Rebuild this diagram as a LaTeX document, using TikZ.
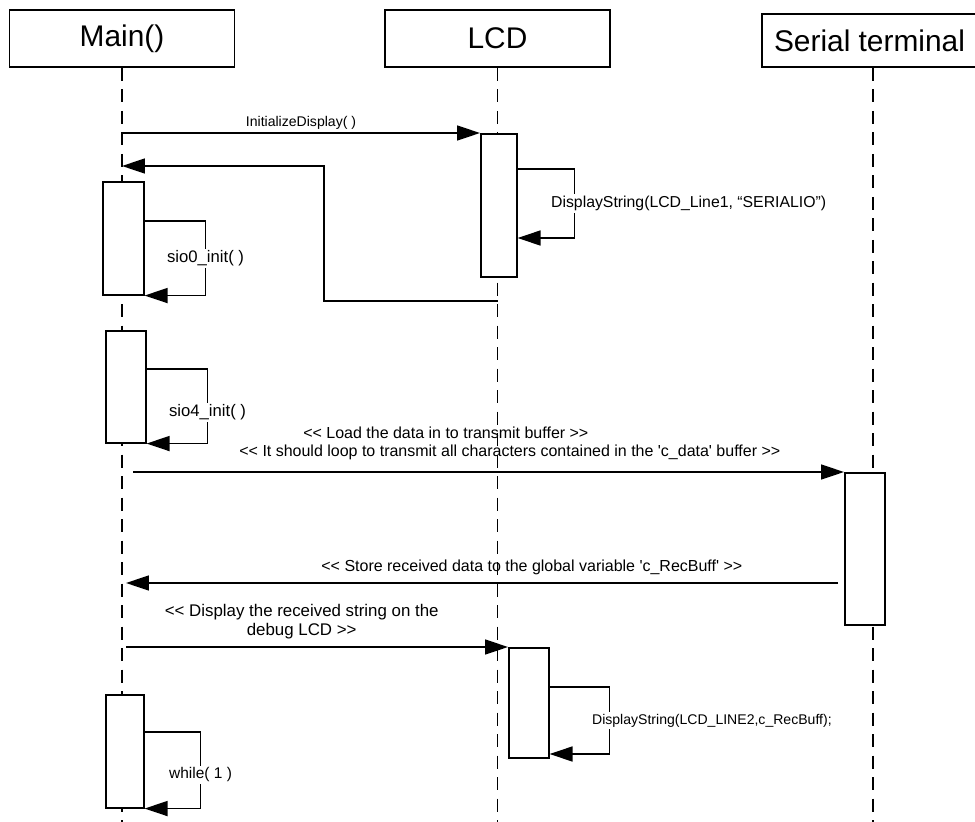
\documentclass[tikz,border=0pt]{standalone}
\usepackage{fontspec}
\setmainfont{Liberation Sans}[Ligatures=TeXOff]
\usetikzlibrary{arrows.meta,calc}
\tikzstyle{actor}=[rectangle,
                   draw,
                   line width=0.9pt,
                   fill=white,
                   minimum width=4.5cm,
                   minimum height=1.14cm,
                   font=\fontsize{17}{20}\selectfont]
\tikzstyle{lifeline}=[line width=0.85pt,dash pattern=on 0.26cm off 0.17cm]
\tikzstyle{activation}=[rectangle,
                        draw,
                        line width=0.9pt,
                        fill=white,
                        inner sep=0pt,
                        minimum width=0.8cm,
                        anchor=north west]
\tikzstyle{message}=[line width=0.9pt,-{Triangle[length=0.46cm,width=0.3cm]}]
\tikzstyle{callname}=[font=\fontsize{8}{10.8}\selectfont,inner sep=1pt]
\tikzstyle{longcall}=[callname,font=\fontsize{9.1}{10.8}\selectfont]
\tikzstyle{loopname}=[callname,fill=white,font=\fontsize{9}{10.8}\selectfont]

\begin{document}
\begin{tikzpicture}[x=0.02cm,y=-0.02cm]
    \useasboundingbox (0,0) rectangle (975,822);
    % objects and their lifelines
    \node[actor] (main) at (122,38.5) {Main()};
    \node[actor] (lcd) at (497.5,38.5) {LCD};
    \node[actor, minimum width=4.3cm, minimum height=1.06cm] (serial) at (869.5,40.5) {Serial terminal};
    \coordinate (mainEnd) at (122,822);
    \coordinate (lcdEnd) at (497.5,822);
    \coordinate (serialEnd) at (873,822);
    \draw[lifeline] (main.south) -- (mainEnd);
    \draw[lifeline] (lcd.south) -- (lcdEnd);
    \draw[lifeline] (serial.south -| serialEnd) -- (serialEnd);

    % activations
    \node[activation, minimum width=0.72cm, minimum height=2.86cm] (lcdA) at (480,133) {};
    \node[activation, minimum width=0.82cm, minimum height=2.26cm] (mainA) at (102,181) {};
    \node[activation, minimum height=2.24cm] (mainB) at (105,330) {};
    \node[activation, minimum height=3.04cm] (serA) at (844,472) {};
    \node[activation, minimum height=2.2cm] (lcdB) at (508,647) {};
    \node[activation, minimum width=0.76cm, minimum height=2.26cm] (mainC) at (105,694) {};

    % messages
    \coordinate (init) at (122,133);
    \coordinate (lcdRet) at (497.5,301);
    \coordinate (mainRet) at (122,166);
    \coordinate (load) at (133,472);
    \coordinate (storeFrom) at (838,583);
    \coordinate (store) at (126,583);
    \coordinate (show) at (126,647);

    \draw[message] (init) -- node[callname, yshift=0.2cm] {InitializeDisplay( )} (lcdA.north west);
    \draw[message] (lcdRet) -- ++(-173.5,0) |- (mainRet);
    \draw[message] ($(lcdA.north east)+(0,36)$) -- ++(57,0)
        |- node[loopname, pos=0.25, anchor=west, xshift=-0.52cm] {DisplayString(LCD\_Line1, “SERIALIO”)} ($(lcdA.north east)+(0,105)$);
    \draw[message] ($(mainA.north east)+(0,40)$) -- ++(61,0)
        |- node[loopname, pos=0.25, font=\fontsize{9.5}{10.8}\selectfont] {sio0\_init( )} (mainA.south east);
    \draw[message] ($(mainB.north east)+(0,39)$) -- ++(61,0)
        |- node[loopname, pos=0.29, font=\fontsize{9.5}{10.8}\selectfont] {sio4\_init( )} (mainB.south east);
    \draw[message] (load) -- node[longcall, pos=0.44, yshift=0.78cm] {<< Load the data in to transmit buffer >>}
        node[longcall, pos=0.53, yshift=0.4cm] {<< It should loop to transmit all characters contained in the 'c\_data' buffer >>} (serA.north west);
    \draw[message] (storeFrom) -- node[longcall, pos=0.43, yshift=0.32cm] {<< Store received data to the global variable 'c\_RecBuff' >>} (store);
    \draw[message] (show) -- node[longcall, align=center, pos=0.46, yshift=0.51cm, font=\fontsize{9.6}{10.8}\selectfont] {<< Display the received string on the\\debug LCD >>} (lcdB.north west);
    \draw[message] ($(lcdB.north east)+(0,40)$) -- ++(60,0)
        |- node[loopname, pos=0.25, anchor=west, xshift=-0.4cm, font=\fontsize{8}{10.8}\selectfont] {DisplayString(LCD\_LINE2,c\_RecBuff);} ($(lcdB.north east)+(0,107)$);
    \draw[message] ($(mainC.north east)+(0,38)$) -- ++(56,0)
        |- node[loopname, pos=0.28, font=\fontsize{8.8}{10.8}\selectfont] {while( 1 )} (mainC.south east);

  \end{tikzpicture}
\end{document}
